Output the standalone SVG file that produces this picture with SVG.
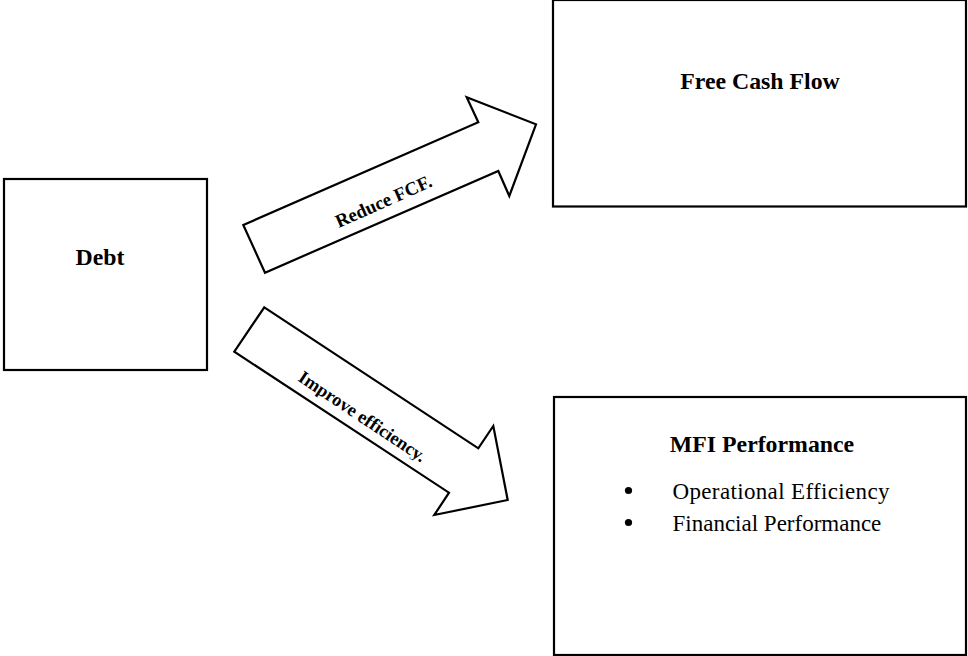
<svg xmlns="http://www.w3.org/2000/svg" width="968" height="656" viewBox="0 0 968 656">
<style>
.box{fill:#fff;stroke:#000;stroke-width:2.2}
.arrow{fill:#fff;stroke:#000;stroke-width:2.2;stroke-linejoin:miter}
text{font-variant-ligatures:none;font-feature-settings:"liga" 0}
.title{font-family:"Liberation Serif","Times New Roman",serif;font-weight:bold;font-size:23.8px;fill:#000;text-anchor:middle}
.lab{font-family:"Liberation Serif","Times New Roman",serif;font-weight:bold;font-size:18.8px;fill:#000;text-anchor:middle}
.item{font-family:"Liberation Serif","Times New Roman",serif;font-size:23px;fill:#000}
</style>
<defs>
<clipPath id="clipImp"><rect x="-100" y="-30" width="200" height="33"/></clipPath>
</defs>
<rect width="968" height="656" fill="#fff"/>
<g id="connectors">
<g id="arrow-reduce">
<polygon class="arrow" points="243.3,225 478.3,122.3 466.7,97.3 536,124.3 509.3,196 498.3,171 265,272.7"/>
<text class="lab" transform="translate(386,207) rotate(-24)" x="0" y="0">Reduce FCF.</text>
</g>
<g id="arrow-improve">
<polygon class="arrow" points="264.3,307.3 478.3,448.3 493.3,426 507.7,500 434.3,515 449,492.7 234.3,351.7"/>
<g transform="translate(359,421.5) rotate(33.6)">
<text class="lab" x="0" y="0" style="font-size:18.3px" clip-path="url(#clipImp)">Improve efficiency.</text>
</g>
</g>
</g>
<g id="node-debt">
<rect class="box" x="4" y="179" width="203" height="191"/>
<text class="title" x="100" y="265">Debt</text>
</g>
<g id="node-fcf">
<rect class="box" x="553" y="0" width="413" height="206.5"/>
<text class="title" x="760" y="89">Free Cash Flow</text>
</g>
<g id="node-mfi">
<rect class="box" x="554" y="397" width="412" height="258"/>
<text class="title" x="762" y="452">MFI Performance</text>
<circle cx="628.5" cy="490.5" r="3.6" fill="#000"/>
<text class="item" x="672.5" y="498.5" textLength="217" lengthAdjust="spacing">Operational Efficiency</text>
<circle cx="628.5" cy="522.5" r="3.6" fill="#000"/>
<text class="item" x="672.5" y="530.5">Financial Performance</text>
</g>
</svg>
